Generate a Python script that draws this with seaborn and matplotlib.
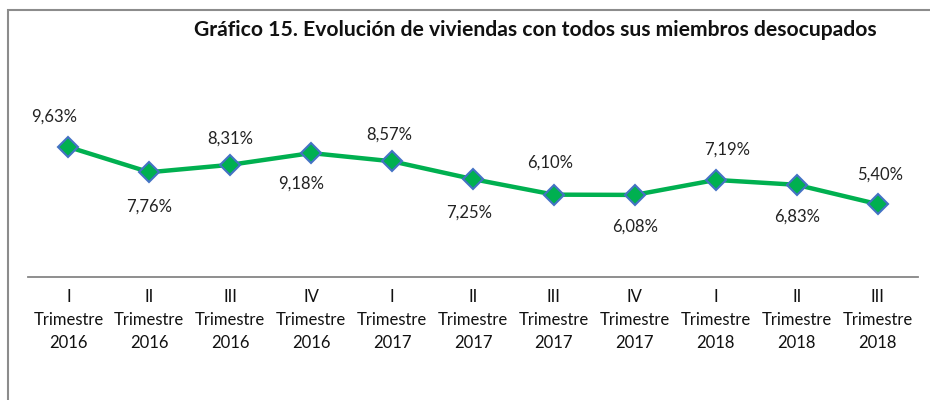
import numpy as np
import pandas as pd
import matplotlib
matplotlib.use('Agg')
import matplotlib.pyplot as plt
import seaborn as sns
from matplotlib.patches import Rectangle

trimestres = ['I', 'II', 'III', 'IV', 'I', 'II', 'III', 'IV', 'I', 'II', 'III']
anios = ['2016', '2016', '2016', '2016', '2017', '2017', '2017', '2017', '2018', '2018', '2018']
valores = [9.63, 7.76, 8.31, 9.18, 8.57, 7.25, 6.10, 6.08, 7.19, 6.83, 5.40]
etiquetas = [f'{t}\nTrimestre\n{a}' for t, a in zip(trimestres, anios)]

# label offsets in points (above / below the marker)
offsets = [(-10, 22), (0, -25), (0, 19), (-7, -22), (-2, 19), (-3, -24),
           (-3, 23), (0, -23), (8, 22), (0, -23), (2, 21)]

sns.set_theme(style='white')
plt.rcParams['font.family'] = ['Lato', 'DejaVu Sans']

df = pd.DataFrame({'periodo': etiquetas, 'valor': valores})

fig = plt.figure(figsize=(9.3, 4), dpi=100)
ax = fig.add_axes([28 / 930, 1 - 277 / 400, 890 / 930, 162 / 400])

sns.lineplot(data=df, x='periodo', y='valor', sort=False, ax=ax,
             color='#00B050', linewidth=3.2, marker='D', markersize=10,
             markerfacecolor='#00B050', markeredgecolor='#4472C4',
             markeredgewidth=1.5)

for i, v in enumerate(valores):
    dx, dy = offsets[i]
    ax.annotate(f'{v:.2f}%'.replace('.', ','), (i, v), xytext=(dx, dy),
                textcoords='offset points', ha='center', va='center',
                fontsize=12, color='#222222')

ax.set_xlim(-0.5, len(valores) - 0.5)
ax.set_ylim(0, 12)
ax.set_xlabel('')
ax.set_ylabel('')
ax.set_yticks([])
for s in ['top', 'right', 'left']:
    ax.spines[s].set_visible(False)
ax.spines['bottom'].set_color('#868686')
ax.spines['bottom'].set_linewidth(1.3)
ax.tick_params(axis='x', length=0, pad=9, labelsize=12, labelcolor='#111111')
for lbl in ax.get_xticklabels():
    lbl.set_linespacing(1.52)

fig.text(535 / 930, 1 - 30 / 400, 'Gráfico 15. Evolución de viviendas con todos sus miembros desocupados',
         ha='center', va='center', fontsize=15.2, fontweight='bold', color='#111111')

fig.add_artist(Rectangle((8 / 930, -0.2), 1.2, 0.2 + 1 - 10 / 400, transform=fig.transFigure,
                         fill=False, edgecolor='#8c8c8c', linewidth=1.5))

fig.savefig('out.png', dpi=100)
